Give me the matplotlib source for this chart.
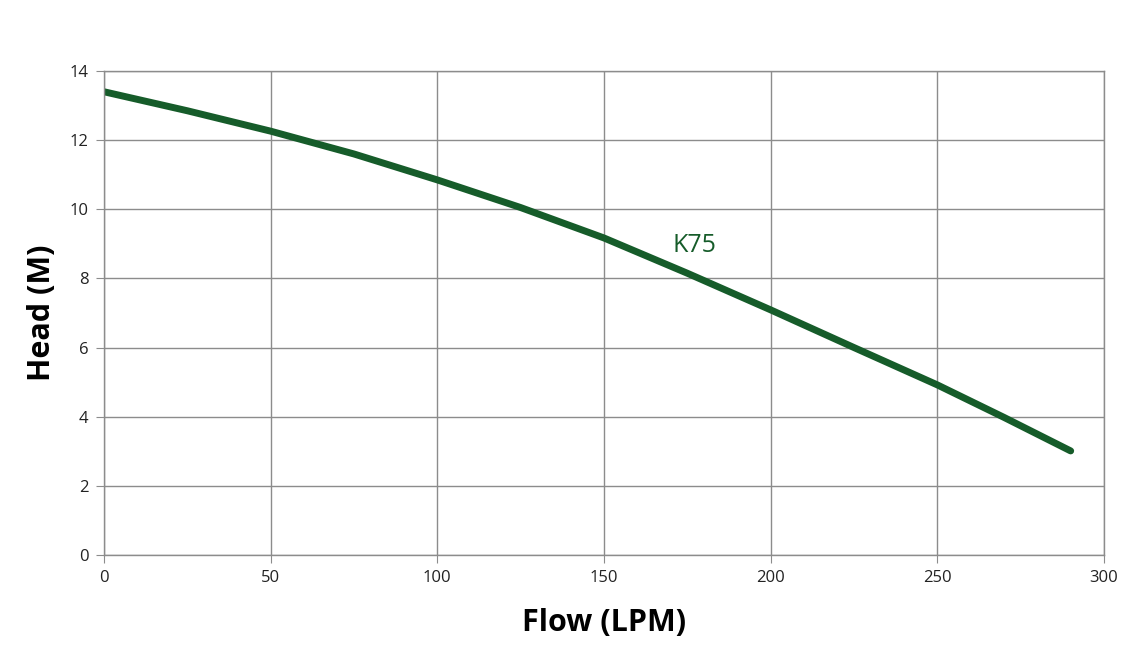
import matplotlib.pyplot as plt

plt.rcParams['font.family'] = ['Open Sans', 'DejaVu Sans']

# pump curve
flow = [0, 25, 50, 75, 100, 125, 150, 175, 200, 225, 250, 270, 290]
head = [13.4, 12.85, 12.26, 11.6, 10.85, 10.05, 9.17, 8.15, 7.09, 6.0, 4.92, 3.98, 3.01]
x_ticks = [0, 50, 100, 150, 200, 250, 300]
y_ticks = [0, 2, 4, 6, 8, 10, 12, 14]

green = '#165c2a'
grid_col = '#8c8c8c'

fig = plt.figure(figsize=(11.35, 6.52), dpi=100)
ax = fig.add_axes([0.0916, 0.1488, 0.8811, 0.7423])

ax.plot(flow, head, color=green, lw=5, solid_capstyle='round', solid_joinstyle='round')
ax.text(177, 8.94, 'K75', color=green, fontsize=18, ha='center', va='center')

ax.set_xlim(0, 300)
ax.set_ylim(0, 14)
ax.set_xticks(x_ticks)
ax.set_yticks(y_ticks)
ax.grid(True, color=grid_col, lw=1)
ax.set_axisbelow(True)
for s in ax.spines.values():
    s.set_color(grid_col)
    s.set_linewidth(1)
ax.tick_params(direction='out', length=6, color=grid_col, labelsize=12, labelcolor='#222222', pad=5)

ax.set_xlabel('Flow (LPM)', fontsize=22, fontweight='bold', labelpad=16)
ax.set_ylabel('Head (M)', fontsize=22, fontweight='bold', labelpad=9)

fig.savefig('out.png', dpi=100)
